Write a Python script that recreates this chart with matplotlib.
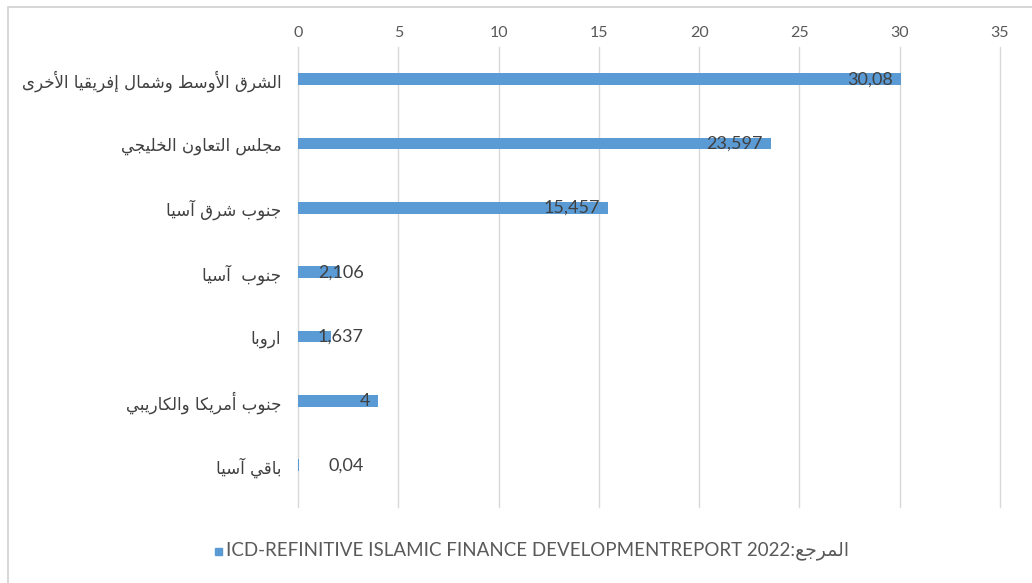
import matplotlib
matplotlib.use('Agg')
import matplotlib.pyplot as plt
from matplotlib.patches import Rectangle

# data
regions = ['الشرق الأوسط وشمال إفريقيا الأخرى', 'مجلس التعاون الخليجي', 'جنوب شرق آسيا',
           'جنوب  آسيا', 'اروبا', 'جنوب أمريكا والكاريبي', 'باقي آسيا']
values = [30.08, 23.597, 15.457, 2.106, 1.637, 4, 0.04]
value_labels = ['30,08', '23,597', '15,457', '2,106', '1,637', '4', '0,04']
xticks = [0, 5, 10, 15, 20, 25, 30, 35]
source_en = 'ICD-REFINITIVE ISLAMIC FINANCE DEVELOPMENTREPORT 2022:'
source_ar = 'المرجع'

# simple arabic shaping (matplotlib has no text shaping)
FORMS = {
    'ا': ('\uFE8D', '\uFE8E', None, None), 'أ': ('\uFE83', '\uFE84', None, None),
    'إ': ('\uFE87', '\uFE88', None, None), 'آ': ('\uFE81', '\uFE82', None, None),
    'ب': ('\uFE8F', '\uFE90', '\uFE91', '\uFE92'), 'ت': ('\uFE95', '\uFE96', '\uFE97', '\uFE98'),
    'ج': ('\uFE9D', '\uFE9E', '\uFE9F', '\uFEA0'), 'خ': ('\uFEA5', '\uFEA6', '\uFEA7', '\uFEA8'),
    'ر': ('\uFEAD', '\uFEAE', None, None), 'س': ('\uFEB1', '\uFEB2', '\uFEB3', '\uFEB4'),
    'ش': ('\uFEB5', '\uFEB6', '\uFEB7', '\uFEB8'), 'ط': ('\uFEC1', '\uFEC2', '\uFEC3', '\uFEC4'),
    'ع': ('\uFEC9', '\uFECA', '\uFECB', '\uFECC'), 'ف': ('\uFED1', '\uFED2', '\uFED3', '\uFED4'),
    'ق': ('\uFED5', '\uFED6', '\uFED7', '\uFED8'), 'ك': ('\uFED9', '\uFEDA', '\uFEDB', '\uFEDC'),
    'ل': ('\uFEDD', '\uFEDE', '\uFEDF', '\uFEE0'), 'م': ('\uFEE1', '\uFEE2', '\uFEE3', '\uFEE4'),
    'ن': ('\uFEE5', '\uFEE6', '\uFEE7', '\uFEE8'), 'و': ('\uFEED', '\uFEEE', None, None),
    'ى': ('\uFEEF', '\uFEF0', None, None), 'ي': ('\uFEF1', '\uFEF2', '\uFEF3', '\uFEF4'),
}
LAM_ALEF = {'آ': ('\uFEF5', '\uFEF6'), 'أ': ('\uFEF7', '\uFEF8'),
            'إ': ('\uFEF9', '\uFEFA'), 'ا': ('\uFEFB', '\uFEFC')}


def dual(c):
    return c in FORMS and FORMS[c][2] is not None


def shape(text):
    out = []
    i = 0
    while i < len(text):
        c = text[i]
        prev = text[i - 1] if i > 0 else ' '
        joins_prev = dual(prev) and c in FORMS
        if c == 'ل' and i + 1 < len(text) and text[i + 1] in LAM_ALEF:
            out.append(LAM_ALEF[text[i + 1]][1 if joins_prev else 0])
            i += 2
            continue
        if c not in FORMS:
            out.append(c)
            i += 1
            continue
        nxt = text[i + 1] if i + 1 < len(text) else ' '
        joins_next = dual(c) and nxt in FORMS
        iso, fin, ini, med = FORMS[c]
        if joins_prev and joins_next:
            out.append(med)
        elif joins_prev:
            out.append(fin)
        elif joins_next:
            out.append(ini)
        else:
            out.append(iso)
        i += 1
    return ''.join(out)[::-1]


plt.rcParams['font.family'] = ['DejaVu Sans']

fig = plt.figure(figsize=(10.32, 5.83), dpi=100)
fig.patches.append(Rectangle((8 / 1032, -0.05), 1.1, 1 - 7 / 583 + 0.05, transform=fig.transFigure,
                             fill=False, edgecolor='#d0d0d0', linewidth=1.2))
ax = fig.add_axes([298 / 1032, 1 - 507 / 583, (1000 - 298) / 1032, (507 - 47) / 583])

pos = list(range(len(regions)))
ax.barh(pos, values, height=0.18, color='#5B9BD5', zorder=2)
ax.set_xlim(0, 35)
ax.set_ylim(6.65, -0.5)
ax.set_xticks(xticks)
ax.xaxis.tick_top()
ax.tick_params(axis='x', length=0, pad=5, labelsize=11.5, labelcolor='#595959')
for lbl in ax.get_xticklabels():
    lbl.set_family(['Lato', 'DejaVu Sans'])
ax.set_yticks(pos)
ax.set_yticklabels([shape(r) for r in regions])
ax.tick_params(axis='y', length=0, pad=12, labelsize=12, labelcolor='#404040')
ax.grid(axis='x', color='#d9d9d9', linewidth=1, zorder=0)
for g in ax.get_xgridlines():
    g.set_clip_on(False)
for s in ax.spines.values():
    s.set_visible(False)

for p, v, lab in zip(pos, values, value_labels):
    ax.annotate(lab, (max(v, 3.7), p), xytext=(-6, 0), textcoords='offset points',
                ha='right', va='center', fontsize=13, color='#404040', zorder=3,
                family=['Lato', 'DejaVu Sans'])

# legend
fig.patches.append(Rectangle((215 / 1032, 1 - 555 / 583), 7 / 1032, 7 / 583,
                             transform=fig.transFigure, color='#5B9BD5'))
fig.text(226 / 1032, 1 - 551 / 583, source_en + shape(source_ar), ha='left', va='center',
         fontsize=13.5, color='#595959', family=['Lato', 'DejaVu Sans'])

fig.savefig('out.png', dpi=100)
